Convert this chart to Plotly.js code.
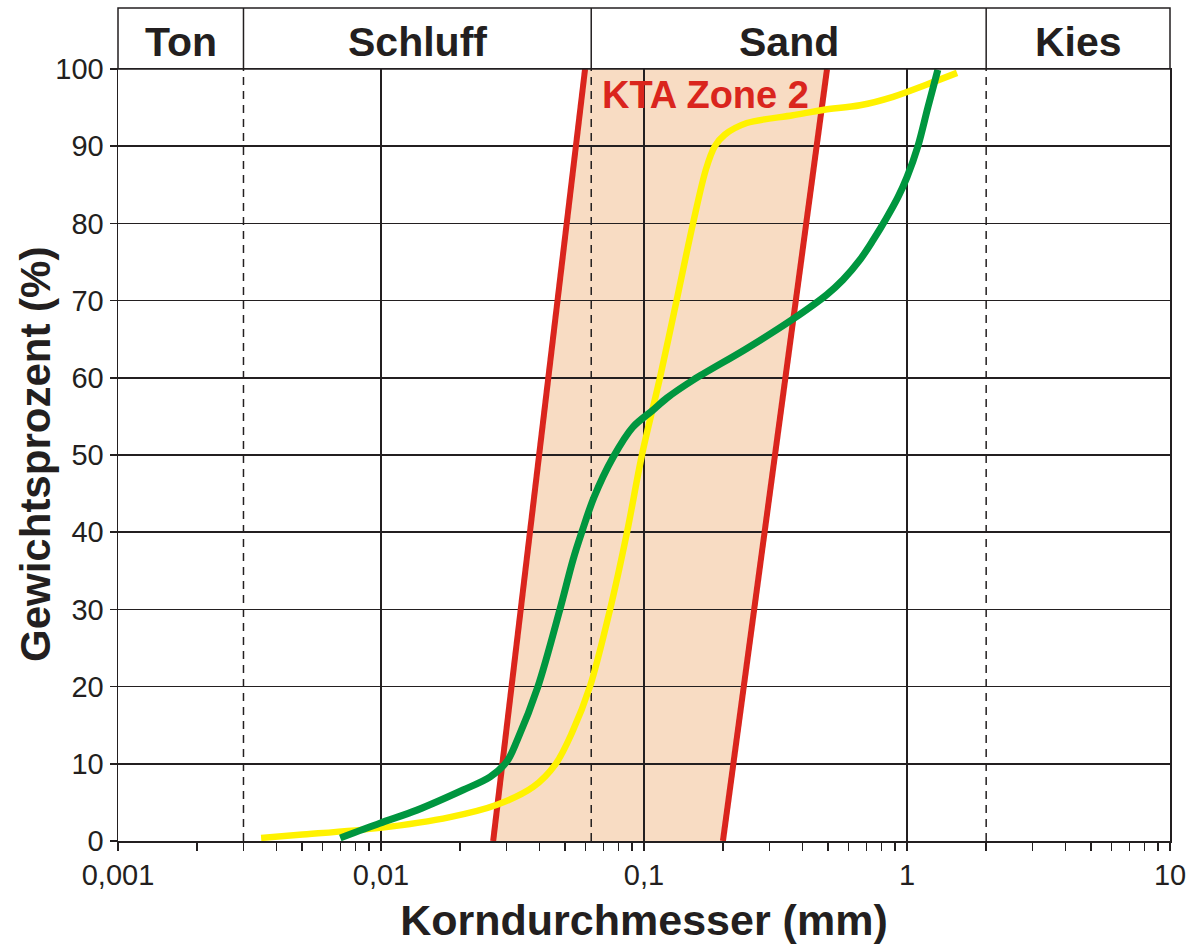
<!DOCTYPE html>
<html><head><meta charset="utf-8">
<script src="https://cdn.plot.ly/plotly-3.0.1.min.js"></script>
<style>html,body{margin:0;padding:0;background:#fff}#chart{width:1198px;height:944px}</style>
</head><body><div id="chart"></div>
<script>
// Sieve curves: grain diameter (mm) and cumulative weight percent
const yellowD = [0.0035, 0.0049, 0.0099, 0.0183, 0.0276, 0.0379, 0.0462, 0.0532, 0.0623, 0.0743, 0.0862, 0.0982, 0.115, 0.133, 0.1536, 0.172, 0.186, 0.203, 0.246, 0.368, 0.479, 0.663, 0.885, 1.19, 1.55];
const yellowP = [0.4, 0.8, 1.7, 3.1, 4.7, 7.0, 10.0, 14.0, 20.0, 30.0, 40.0, 50.0, 60.0, 70.0, 80.0, 87.0, 90.0, 91.5, 93.0, 94.0, 94.7, 95.3, 96.4, 98.0, 99.5];
const greenD = [0.0070, 0.0099, 0.0137, 0.0205, 0.026, 0.0301, 0.0329, 0.0395, 0.0479, 0.0537, 0.0580, 0.0645, 0.0763, 0.0906, 0.108, 0.1224, 0.1536, 0.246, 0.368, 0.4965, 0.571, 0.663, 0.742, 0.839, 0.924, 1.0, 1.1, 1.2, 1.31];
const greenP = [0.4, 2.3, 4.0, 6.6, 8.3, 10.3, 13.0, 20.0, 30.0, 36.4, 40.0, 44.5, 49.7, 53.6, 55.8, 57.4, 59.7, 63.8, 67.6, 70.8, 72.7, 75.3, 77.8, 80.8, 83.4, 86.0, 90.0, 95.0, 99.9];
// KTA Zone 2 limits
const ktaLeftD = [0.0267, 0.0597];
const ktaRightD = [0.1996, 0.4965];
const ktaP = [0, 100];
const ktaLabel = 'KTA Zone 2';
const ktaLabelPos = [0.0680, 96.6];
// Soil fractions
const fractionBounds = [0.001, 0.003, 0.063, 2, 10];
const fractionNames = ['Ton', 'Schluff', 'Sand', 'Kies'];
// Ticks
const xTickVals = [0.001, 0.01, 0.1, 1, 10];
const xTickText = ['0,001', '0,01', '0,1', '1', '10'];
const yTickVals = [0, 10, 20, 30, 40, 50, 60, 70, 80, 90, 100];
const xTitle = 'Korndurchmesser (mm)';
const yTitle = 'Gewichtsprozent (%)';

const FONT = 'Arial, "Liberation Sans", sans-serif';
const INK = '#231F20';
const HEADER_TOP = 1.079;

const minorVals = [];
for (let i = 0; i < xTickVals.length - 1; i++) {
  for (let m = 2; m <= 9; m++) minorVals.push(xTickVals[i] * m);
}

const traces = [
  {x: ktaLeftD, y: ktaP, mode: 'lines', line: {color: '#DA251D', width: 6}, hoverinfo: 'skip'},
  {x: ktaRightD, y: ktaP, mode: 'lines', line: {color: '#DA251D', width: 6}, hoverinfo: 'skip'},
  {x: yellowD, y: yellowP, mode: 'lines', line: {color: '#FFF200', width: 6.5, shape: 'spline', smoothing: 0.9}},
  {x: greenD, y: greenP, mode: 'lines', line: {color: '#00963F', width: 7, shape: 'spline', smoothing: 0.9}}
];

const shapes = [];
// band fill below gridlines
shapes.push({
  type: 'path', layer: 'below', xref: 'x', yref: 'y',
  path: 'M' + ktaLeftD[0] + ',' + ktaP[0] + ' L' + ktaLeftD[1] + ',' + ktaP[1] +
        ' L' + ktaRightD[1] + ',' + ktaP[1] + ' L' + ktaRightD[0] + ',' + ktaP[0] + ' Z',
  fillcolor: '#F8DCC3', line: {width: 0}
});
// dashed fraction boundaries inside plot, solid separators in header
fractionBounds.slice(1, -1).forEach(b => {
  shapes.push({type: 'line', layer: 'between', xref: 'x', yref: 'y', x0: b, x1: b, y0: 0, y1: 100,
    line: {color: INK, width: 1.5, dash: '8px,6px'}});
  shapes.push({type: 'line', layer: 'above', xref: 'x', yref: 'paper', x0: b, x1: b, y0: 1, y1: HEADER_TOP,
    line: {color: INK, width: 1.5}});
});
// header box
shapes.push({type: 'rect', layer: 'above', xref: 'paper', yref: 'paper', x0: 0, x1: 1, y0: 1, y1: HEADER_TOP,
  line: {color: INK, width: 1.5}, fillcolor: 'rgba(0,0,0,0)'});

const annotations = fractionNames.map((n, i) => ({
  text: n, xref: 'x', yref: 'paper', showarrow: false,
  x: (Math.log10(fractionBounds[i]) + Math.log10(fractionBounds[i + 1])) / 2,
  y: (1 + HEADER_TOP) / 2 - 0.004, xanchor: 'center', yanchor: 'middle',
  font: {family: FONT, size: 41, color: INK, weight: 'bold'}
}));
annotations.push({
  text: ktaLabel, xref: 'x', yref: 'y', showarrow: false,
  x: Math.log10(ktaLabelPos[0]), y: ktaLabelPos[1], xanchor: 'left', yanchor: 'middle',
  font: {family: FONT, size: 38, color: '#DA251D', weight: 'bold'}
});
annotations.push({
  text: yTitle, xref: 'paper', yref: 'paper', showarrow: false,
  x: 0, y: 0.5, xanchor: 'center', yanchor: 'middle', xshift: -83, textangle: -90,
  font: {family: FONT, size: 42, color: INK, weight: 'bold'}
});

const layout = {
  width: 1198, height: 944,
  margin: {l: 118, r: 28, t: 69, b: 103},
  paper_bgcolor: '#fff', plot_bgcolor: '#fff',
  showlegend: false,
  font: {family: FONT, color: INK},
  xaxis: {
    type: 'log', range: [-3, 1],
    tickmode: 'array', tickvals: xTickVals, ticktext: xTickText,
    ticks: 'outside', ticklen: 8, tickwidth: 1.5, tickcolor: INK,
    tickfont: {family: FONT, size: 29, color: INK},
    showgrid: true, gridcolor: INK, gridwidth: 1.5,
    minor: {tickmode: 'array', tickvals: minorVals, ticks: 'outside', ticklen: 8, tickwidth: 1.5, tickcolor: INK, showgrid: false},
    showline: true, mirror: true, linecolor: INK, linewidth: 1.5,
    zeroline: false,
    title: {text: xTitle, font: {family: FONT, size: 43, color: INK, weight: 'bold'}, standoff: 14}
  },
  yaxis: {
    range: [0, 100],
    tickmode: 'array', tickvals: yTickVals,
    ticks: 'outside', ticklen: 7, tickwidth: 1.5, tickcolor: INK,
    tickfont: {family: FONT, size: 29, color: INK},
    showgrid: true, gridcolor: INK, gridwidth: 1.5,
    showline: true, mirror: true, linecolor: INK, linewidth: 1.5,
    zeroline: false
  },
  shapes: shapes,
  annotations: annotations
};

Plotly.newPlot('chart', traces, layout, {staticPlot: true});
</script>
</body></html>
